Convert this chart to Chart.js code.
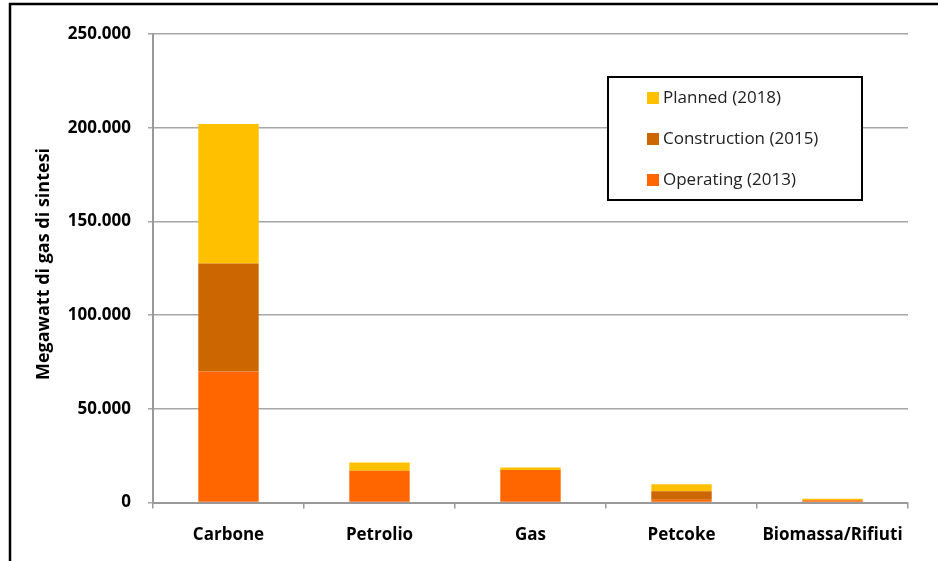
<!DOCTYPE html>
<html>
<head>
<meta charset="utf-8">
<script src="https://cdn.jsdelivr.net/npm/chart.js@4/dist/chart.umd.min.js"></script>
<style>
  html, body { margin: 0; padding: 0; background: #fff; }
  #wrap { width: 938px; height: 561px; }
</style>
</head>
<body>
<div id="wrap"><canvas id="mycanvas" width="938" height="561"></canvas></div>
<script>
// categories and series (MW di gas di sintesi)
var categories = ['Carbone', 'Petrolio', 'Gas', 'Petcoke', 'Biomassa/Rifiuti'];
var operating = [70000, 17000, 17400, 1500, 1300];
var construction = [57500, 0, 0, 4600, 0];
var planned = [74500, 4400, 1300, 3700, 700];
var yTicks = [0, 50000, 100000, 150000, 200000, 250000];

function fmt(v) {
	return String(v).replace(/\B(?=(\d{3})+(?!\d))/g, '.');
}

// frame lines + y title + boxed legend
var extras = {
	id: 'extras',
	afterDraw: function(chart) {
		var ctx = chart.ctx;
		ctx.save();
		ctx.strokeStyle = '#000';
		ctx.lineWidth = 2.5;
		ctx.beginPath();
		ctx.moveTo(10, 561);
		ctx.lineTo(10, 4);
		ctx.lineTo(938, 4);
		ctx.stroke();

		ctx.fillStyle = '#000';
		ctx.font = 'bold 18px "Open Sans"';
		ctx.textAlign = 'center';
		ctx.textBaseline = 'middle';
		ctx.translate(44, 264);
		ctx.rotate(-Math.PI / 2);
		ctx.fillText('Megawatt di gas di sintesi', 0, 0);
		ctx.restore();

		// legend box
		ctx.save();
		ctx.fillStyle = '#fff';
		ctx.fillRect(608, 77, 254, 123);
		ctx.strokeStyle = '#000';
		ctx.lineWidth = 2;
		ctx.strokeRect(608, 77, 254, 123);
		var ds = chart.data.datasets.slice().reverse();
		ctx.font = '17px "Open Sans"';
		ctx.textBaseline = 'middle';
		for (var i = 0; i < ds.length; i++) {
			var y = 98 + i * 41;
			ctx.fillStyle = ds[i].backgroundColor;
			ctx.fillRect(647, y - 6, 12, 12);
			ctx.fillStyle = '#222';
			ctx.fillText(ds[i].label, 663, y);
		}
		ctx.restore();
	}
};

var ctx = document.getElementById('mycanvas');
var barGraph = new Chart(ctx, {
	type: 'bar',
	data: {
		labels: categories,
		datasets: [
			{ label: 'Operating (2013)', data: operating, backgroundColor: '#FF6600' },
			{ label: 'Construction (2015)', data: construction, backgroundColor: '#CC6600' },
			{ label: 'Planned (2018)', data: planned, backgroundColor: '#FFC000' }
		]
	},
	options: {
		responsive: false,
		animation: false,
		categoryPercentage: 0.8,
		barPercentage: 0.5,
		layout: { padding: { left: 10, right: 30, top: 34, bottom: 0 } },
		plugins: {
			legend: { display: false },
			tooltip: { enabled: false }
		},
		scales: {
			x: {
				stacked: true,
				grid: { drawOnChartArea: false, offset: true, color: '#999', lineWidth: 1.5, tickLength: 6 },
				border: { color: '#999', width: 2 },
				ticks: { color: '#000', font: { family: 'Open Sans', weight: 'bold', size: 17 }, padding: 16, maxRotation: 0 }
			},
			y: {
				stacked: true,
				min: 0,
				max: 250000,
				afterFit: function(scale) { scale.width = 143; },
				afterBuildTicks: function(scale) {
					scale.ticks = yTicks.map(function(v) { return { value: v }; });
				},
				grid: { color: '#a6a6a6', lineWidth: 1.5, tickLength: 5 },
				border: { color: '#999', width: 2 },
				ticks: {
					color: '#000',
					font: { family: 'Open Sans', weight: 'bold', size: 17 },
					padding: 17,
					callback: function(v) { return fmt(v); }
				}
			}
		}
	},
	plugins: [extras]
});
</script>
</body>
</html>
